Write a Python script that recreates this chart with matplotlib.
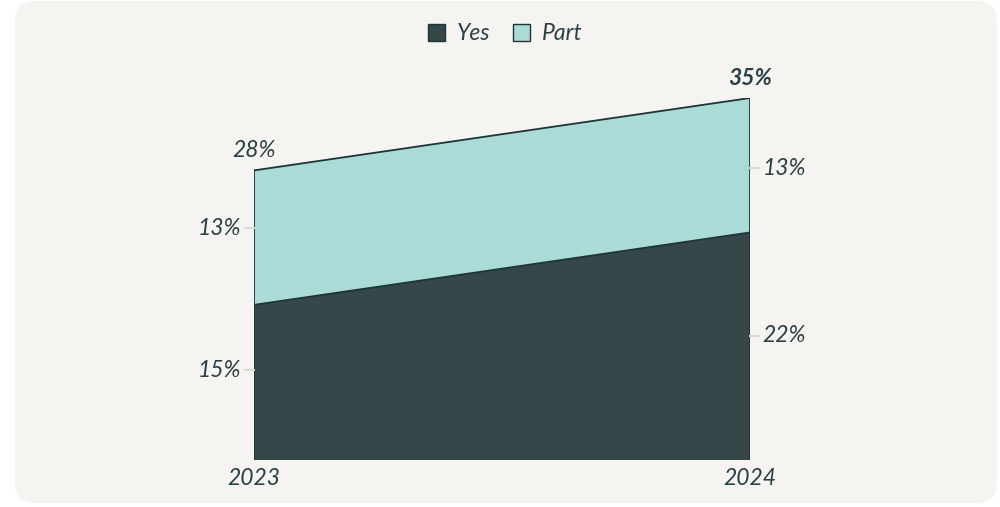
import matplotlib.pyplot as plt
from matplotlib.patches import FancyBboxPatch, Patch

years = ["2023", "2024"]
yes_vals = [15, 22]
part_vals = [13, 13]

DARK = "#36474a"
LIGHT = "#aadbd6"
EDGE = "#1e3537"
TEXT = "#2a4044"
BG = "#f5f4f1"

plt.rcParams['font.family'] = ['Lato', 'DejaVu Sans']

fig = plt.figure(figsize=(10, 5.07), dpi=100)
fig.patch.set_facecolor("white")

# rounded card behind the chart
card = FancyBboxPatch((15 / 1000, 4 / 507), 982 / 1000, 502 / 507,
                      boxstyle="round,pad=0,rounding_size=0.02",
                      transform=fig.transFigure, facecolor=BG, edgecolor="none",
                      mutation_aspect=1000 / 507, zorder=-10)
fig.patches.append(card)

ax = fig.add_axes([254 / 1000, 47 / 507, 496 / 1000, 362 / 507])
ax.set_facecolor("none")
ax.set_zorder(5)

x = [0, 1]
totals = [a + b for a, b in zip(yes_vals, part_vals)]
ax.fill_between(x, 0, yes_vals, facecolor=DARK, edgecolor="none")
ax.fill_between(x, yes_vals, totals, facecolor=LIGHT, edgecolor="none")
ax.plot(x, yes_vals, color=EDGE, lw=1.3)
ax.plot(x, totals, color=EDGE, lw=1.3)
for xi, t in zip(x, totals):
    ax.plot([xi, xi], [0, t], color=EDGE, lw=1.3)

ax.set_xlim(0, 1)
ax.set_ylim(0, totals[1])
ax.axis("off")

fs = 16.5
# segment labels with small leader ticks (slightly nudged from the midpoints)
nudge = [[1.2, 0.9], [1.0, -0.3]]
for xi, side in [(0, -1), (1, 1)]:
    mids = [yes_vals[xi] / 2, yes_vals[xi] + part_vals[xi] / 2]
    vals = [yes_vals[xi], part_vals[xi]]
    for m, v, n in zip(mids, vals, nudge[xi]):
        off = 0.018 * side
        y = m + n
        ax.plot([xi, xi + off], [y, y], color="#d8d8d5", lw=1.5, clip_on=False)
        ax.text(xi + off * 1.4, y, f"{v}%", ha="right" if side < 0 else "left",
                va="center", fontsize=fs, style="italic", color=TEXT)

# totals above each column
ax.text(0, totals[0] + 0.9, f"{totals[0]}%", ha="center", va="bottom",
        fontsize=fs, style="italic", color=TEXT)
ax.text(1, totals[1] + 0.9, f"{totals[1]}%", ha="center", va="bottom",
        fontsize=fs, style="italic", fontweight="bold", color=TEXT)

# year labels
for xi, yr in zip(x, years):
    ax.text(xi, -0.8, yr, ha="center", va="top", fontsize=fs, style="italic",
            color=TEXT)

handles = [Patch(facecolor=DARK, edgecolor=EDGE, label="Yes"),
           Patch(facecolor=LIGHT, edgecolor=EDGE, label="Part")]
leg = fig.legend(handles=handles, loc="center", bbox_to_anchor=(0.505, 1 - 34 / 507),
                 ncol=2, frameon=False, handlelength=0.75, handleheight=0.75,
                 handletextpad=0.5, columnspacing=1.0,
                 prop={"size": fs, "style": "italic"})
for t in leg.get_texts():
    t.set_color(TEXT)

fig.savefig("out.png", dpi=100, facecolor=fig.get_facecolor())
